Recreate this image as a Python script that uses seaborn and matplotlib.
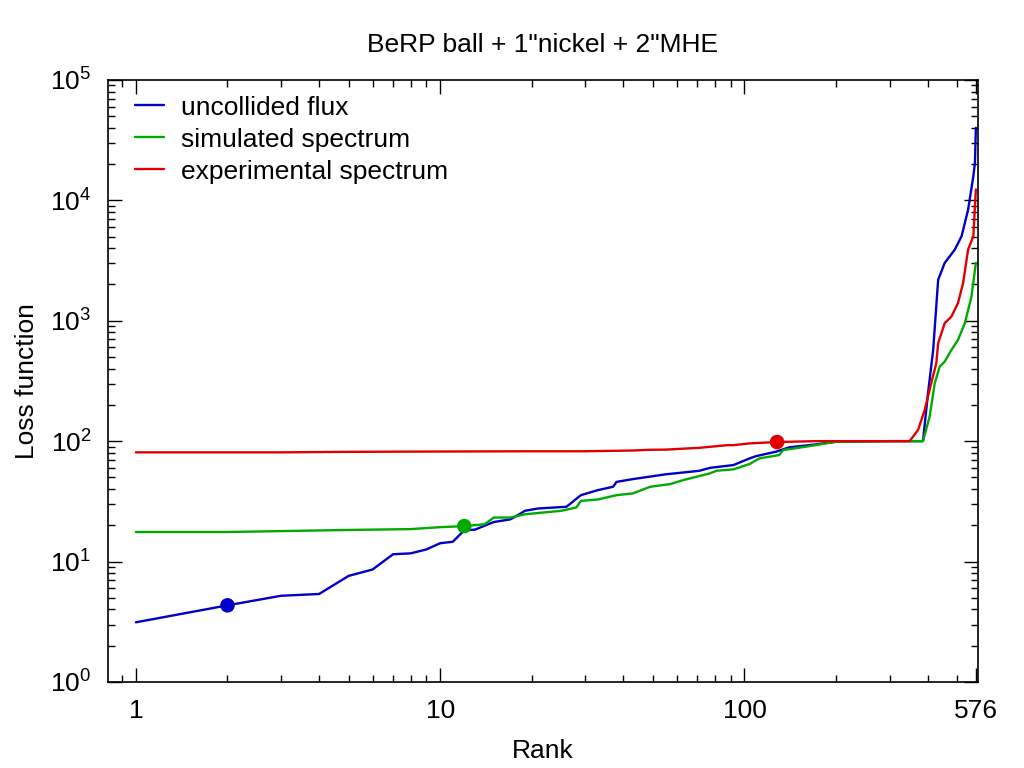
import numpy as np
import pandas as pd
import seaborn as sns
import matplotlib
matplotlib.use("Agg")
import matplotlib.pyplot as plt
from matplotlib.ticker import LogLocator, NullFormatter, FixedLocator, FixedFormatter

# values (rank, loss)
blue_rank = [1, 2, 3, 4, 5, 6, 7, 8, 9, 10, 11, 12, 13, 15, 17, 18, 19, 21, 26, 29,
             33, 37, 38, 43, 55, 71, 77, 92, 104, 109, 127, 140, 172, 200, 300, 386,
             401, 417, 433, 455, 491, 517, 543, 565, 572, 576]
blue_loss = [3.13, 4.33, 5.2, 5.38, 7.6, 8.6, 11.5, 11.7, 12.6, 14.2, 14.6, 18.2, 18.4,
             21.3, 22.4, 24.3, 26.4, 27.6, 28.5, 35.6, 39.2, 41.8, 45.9, 48.4, 53, 56.7,
             60, 63.3, 71.9, 75, 81.7, 88.8, 94, 98.9, 100, 100, 250, 573, 2190, 3020,
             3890, 5030, 8330, 15800, 20500, 40000]

green_rank = [1, 2, 5, 8, 10, 12, 14, 15, 17, 19, 25, 28, 29, 33, 38, 43, 49, 57, 63,
              77, 81, 92, 104, 112, 130, 134, 164, 200, 300, 386, 406, 422, 438, 455,
              479, 503, 530, 557, 576]
green_loss = [17.6, 17.6, 18.3, 18.6, 19.3, 19.7, 20.4, 23.2, 23.2, 24.7, 26.4, 28.1,
              31.9, 32.8, 35.6, 36.8, 41.8, 44, 47.5, 54, 56.8, 58.3, 64.6, 71.9, 76.6,
              84.3, 91, 98.9, 100, 100, 160, 303, 416, 458, 573, 692, 955, 1585, 3020]

red_rank = [1, 3, 5, 10, 20, 30, 43, 49, 55, 71, 88, 92, 104, 128, 172, 250, 349, 372,
            391, 411, 427, 433, 455, 479, 503, 523, 543, 565, 576]
red_loss = [80.7, 80.7, 81.5, 82, 82.4, 82.4, 83.6, 84.8, 85, 88, 92.6, 92.6, 95.8,
            98.3, 100, 100, 100, 124, 181, 303, 444, 651, 955, 1085, 1400, 2055, 3890,
            5030, 12300]

series_names = ["uncollided flux", "simulated spectrum", "experimental spectrum"]
series_colors = ["#0000c8", "#00aa00", "#e00000"]

# highlighted points
mark_rank = [2, 12, 128]
mark_loss = [4.33, 19.7, 98.3]

x_ticks = [1, 10, 100, 576]
x_tick_labels = ["1", "10", "100", "576"]

df = pd.concat([
    pd.DataFrame({"rank": blue_rank, "loss": blue_loss, "series": series_names[0]}),
    pd.DataFrame({"rank": green_rank, "loss": green_loss, "series": series_names[1]}),
    pd.DataFrame({"rank": red_rank, "loss": red_loss, "series": series_names[2]}),
])
marks = pd.DataFrame({"rank": mark_rank, "loss": mark_loss, "series": series_names})

sns.set_style("white")
plt.rcParams["font.family"] = ["Liberation Sans", "DejaVu Sans"]
plt.rcParams["mathtext.fontset"] = "custom"
plt.rcParams["mathtext.rm"] = "Liberation Sans"
plt.rcParams["mathtext.it"] = "Liberation Sans"
plt.rcParams["text.color"] = "black"
plt.rcParams["axes.labelcolor"] = "black"

fig, ax = plt.subplots(figsize=(10.24, 7.68), dpi=100)
fig.subplots_adjust(left=0.1055, right=0.955, bottom=0.112, top=0.896)

palette = dict(zip(series_names, series_colors))
sns.lineplot(data=df, x="rank", y="loss", hue="series", palette=palette,
             linewidth=1.7, ax=ax, estimator=None, sort=False)
sns.scatterplot(data=marks, x="rank", y="loss", hue="series", palette=palette,
                s=110, edgecolor="none", ax=ax, legend=False, zorder=5)

ax.set_xscale("log")
ax.set_yscale("log")
ax.set_xlim(0.81, 585)
ax.set_ylim(1, 1e5)

ax.xaxis.set_major_locator(FixedLocator(x_ticks))
ax.xaxis.set_major_formatter(FixedFormatter(x_tick_labels))
ax.xaxis.set_minor_locator(LogLocator(base=10, subs=np.arange(2, 10)))
ax.xaxis.set_minor_formatter(NullFormatter())
ax.yaxis.set_major_locator(LogLocator(base=10, numticks=10))
ax.yaxis.set_minor_locator(LogLocator(base=10, subs=np.arange(2, 10), numticks=20))
ax.yaxis.set_minor_formatter(NullFormatter())

ax.tick_params(which="both", direction="in", top=True, right=True, left=True,
               bottom=True, width=1, labelsize=19, colors="black")
ax.tick_params(which="major", length=10)
ax.tick_params(which="minor", length=5)
ax.tick_params(axis="x", which="major", pad=12)
ax.tick_params(axis="y", which="major", pad=12)
for s in ax.spines.values():
    s.set_color("black")
    s.set_linewidth(1.2)

ax.set_title("BeRP ball + 1\"nickel + 2\"MHE", fontsize=19, pad=20)
ax.set_xlabel("Rank", fontsize=19, labelpad=12)
ax.set_ylabel("Loss function", fontsize=19, labelpad=8)

leg = ax.legend(loc="upper left", bbox_to_anchor=(0.013, 1.0), frameon=False,
                fontsize=19, handlelength=1.1, handletextpad=0.65,
                borderaxespad=0.2, borderpad=0.4, labelspacing=0.3, title=None)

fig.savefig("out.png", dpi=100)
